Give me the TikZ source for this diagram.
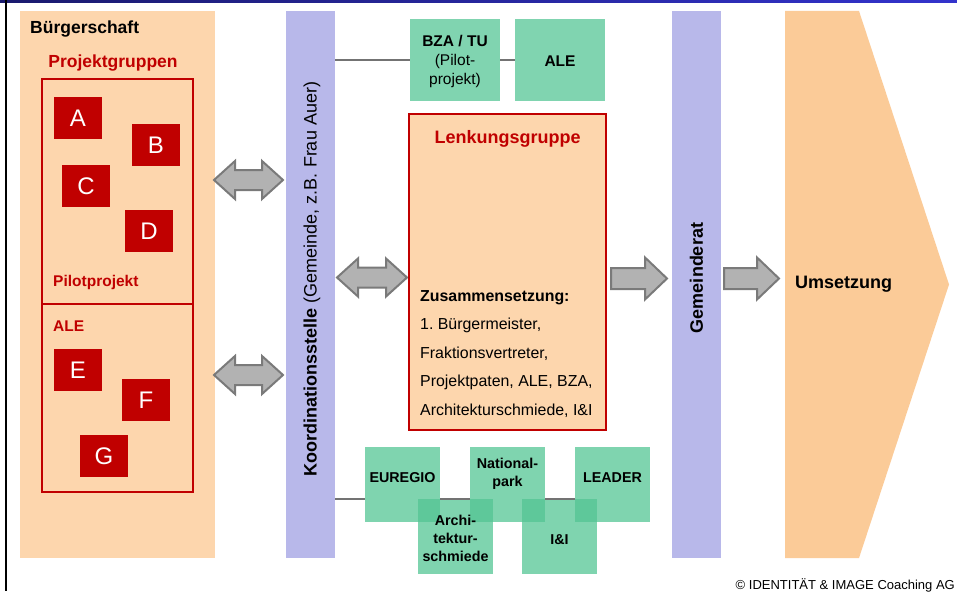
\documentclass[tikz,border=0pt]{standalone}
\usepackage{fontspec}
\setmainfont{Liberation Sans}
\usetikzlibrary{calc}
\frenchspacing
\definecolor{peach}{HTML}{FDD6AD}
\definecolor{peachD}{HTML}{FBCB98}
\definecolor{lav}{HTML}{B8B8EA}
\definecolor{mint}{HTML}{80D4B0}
\definecolor{mintB}{RGB}{83,197,148}
\definecolor{dred}{HTML}{C00000}
\definecolor{garrF}{HTML}{B2B2B2}
\definecolor{garrD}{HTML}{7A7A7A}
\definecolor{navyA}{HTML}{1A1A6E}
\definecolor{navyB}{HTML}{3333CC}
\newcommand\myfs[2]{\fontsize{#1}{#2}\selectfont}
\newcommand\dblarr[3]{\draw[garrow] (#1,#3) -- ({#1+21},{#3-19}) -- ({#1+21},{#3-10}) -- ({#2-21},{#3-10}) -- ({#2-21},{#3-19}) -- (#2,#3) -- ({#2-21},{#3+19}) -- ({#2-21},{#3+10}) -- ({#1+21},{#3+10}) -- ({#1+21},{#3+19}) -- cycle;}
\newcommand\sglarr[3]{\draw[garrow] (#1,{#3-10.5}) -- ({#2-22},{#3-10.5}) -- ({#2-22},{#3-21}) -- (#2,#3) -- ({#2-22},{#3+21}) -- ({#2-22},{#3+10.5}) -- (#1,{#3+10.5}) -- cycle;}
\tikzset{
  box/.style={rectangle, inner sep=0pt, outer sep=0pt, anchor=north west},
  letterbox/.style={box, fill=dred, text=white, minimum width=48pt, minimum height=42pt, font=\myfs{24}{24}},
  redframe/.style={box, draw=dred, line width=2pt},
  greenbox/.style={box, fill=mint, minimum width=90pt, minimum height=82pt},
  tbox/.style={box, fill=mintB, fill opacity=0.74, minimum width=75pt, minimum height=75pt},
  tlabel/.style={align=center, font=\myfs{14.3}{17.8}\bfseries, inner sep=0pt},
  garrow/.style={fill=garrF, draw=garrD, line width=2pt, line join=miter},
  conn/.style={draw=gray!90!black, line width=2.5pt},
}
\begin{document}
\begin{tikzpicture}[x=1pt,y=-1pt]
\useasboundingbox (0,0) rectangle (957,591);
\fill[white] (0,0) rectangle (957,591);
% frame lines
\shade[left color=navyA, right color=navyB] (0,0) rectangle (957,2.2);
\fill[black] (5,0) rectangle (7.2,591);

% Buergerschaft column
\node[box, fill=peach, minimum width=195pt, minimum height=547pt] (buerger) at (20,11) {};
\node[anchor=west, inner sep=0pt, font=\myfs{17.5}{17.5}\bfseries] (btitle) at (30,29) {Bürgerschaft};
\node[inner sep=0pt, text=dred, font=\myfs{17.5}{17.5}\bfseries] (pgtitle) at (113,63) {Projektgruppen};
\node[redframe, minimum width=151pt, minimum height=225pt] (pg) at (42,79) {};
\node[redframe, minimum width=151pt, minimum height=188pt] (pgale) at (42,304) {};
\node[letterbox] (A) at (54,97) {A};
\node[letterbox] (B) at (132,124) {B};
\node[letterbox] (C) at (62,165) {C};
\node[letterbox] (D) at (125,210) {D};
\node[anchor=west, inner sep=0pt, text=dred, font=\myfs{15.5}{15.5}\bfseries] (pilot) at (53,282) {Pilotprojekt};
\node[anchor=west, inner sep=0pt, text=dred, font=\myfs{15.5}{15.5}\bfseries] (alelbl) at (53,326) {ALE};
\node[letterbox] (E) at (54,349) {E};
\node[letterbox] (F) at (122,379) {F};
\node[letterbox] (G) at (80,435) {G};

% Koordinationsstelle
\node[box, fill=lav, minimum width=49pt, minimum height=547pt] (koord) at (286,11) {};
\node[rotate=90, inner sep=0pt, font=\myfs{18}{18}] (ktext) at (312,279) {\textbf{Koordinationsstelle} (Gemeinde, z.B. Frau Auer)};

% double arrows
\dblarr{214}{283}{180}
\dblarr{214}{283}{375}
\dblarr{337}{407}{277.5}

% top green boxes
\node[greenbox] (bza) at (410,19) {};
\node[align=center, inner sep=0pt, font=\myfs{15.5}{19}] (bzatext) at (455,61) {\textbf{BZA / TU}\\(Pilot-\\projekt)};
\node[greenbox] (ale) at (515,19) {};
\node[inner sep=0pt, font=\myfs{15.5}{15.5}\bfseries] (aletext) at (560,61) {ALE};
\draw[conn] (koord.east |- bza.west) -- (bza.west);
\draw[conn] (bza.east) -- (ale.west);

% Lenkungsgruppe
\node[box, fill=peach, draw=dred, line width=2pt, minimum width=197pt, minimum height=316pt] (lenk) at (409,114) {};
\node[inner sep=0pt, text=dred, font=\myfs{18}{18}\bfseries] (lenktitle) at (507.5,139) {Lenkungsgruppe};
\node[anchor=west, align=left, inner sep=0pt, font=\myfs{15.9}{28.5}] (zus) at (420,354) {\textbf{Zusammensetzung:}\\1. Bürgermeister,\\Fraktionsvertreter,\\Projektpaten, ALE, BZA,\\Architekturschmiede, I\&I};

% bottom green boxes
\node[tbox] (euregio) at (365,447) {};
\node[tbox] (national) at (470,447) {};
\node[tbox] (leader) at (575,447) {};
\node[tbox] (archi) at (418,499) {};
\node[tbox] (ii) at (522,499) {};
\node[tlabel] (t1) at (402.5,478) {EUREGIO};
\node[tlabel] (t2) at (507.5,473.5) {National-\\park};
\node[tlabel] (t3) at (612.5,478) {LEADER};
\node[tlabel] (t4) at (455.5,538.5) {Archi-\\tektur-\\schmiede};
\node[tlabel] (t5) at (559.5,540) {I\&I};
\draw[conn] (koord.east |- archi.north) -- (euregio.west |- archi.north);
\draw[conn] (euregio.east |- archi.north) -- (national.west |- archi.north);
\draw[conn] (national.east |- archi.north) -- (leader.west |- archi.north);

% Gemeinderat
\node[box, fill=lav, minimum width=49pt, minimum height=547pt] (gemeinde) at (672,11) {};
\node[rotate=90, inner sep=0pt, font=\myfs{18}{18}\bfseries] (gtext) at (696.5,278) {Gemeinderat};

% single arrows
\sglarr{611}{667}{278.5}
\sglarr{724}{779}{278.5}

% Umsetzung
\fill[peachD] (785,11) -- (859,11) -- (949,284.5) -- (859,558) -- (785,558) -- cycle;
\coordinate (umsetz) at (785,284.5);
\node[anchor=west, inner sep=0pt, font=\myfs{18}{18}\bfseries] (utext) at (795,284) {Umsetzung};

% copyright
\node[anchor=east, inner sep=0pt, font=\myfs{13}{13}] (copy) at (955,585) {© IDENTITÄT \& IMAGE Coaching AG};
\end{tikzpicture}
\end{document}
